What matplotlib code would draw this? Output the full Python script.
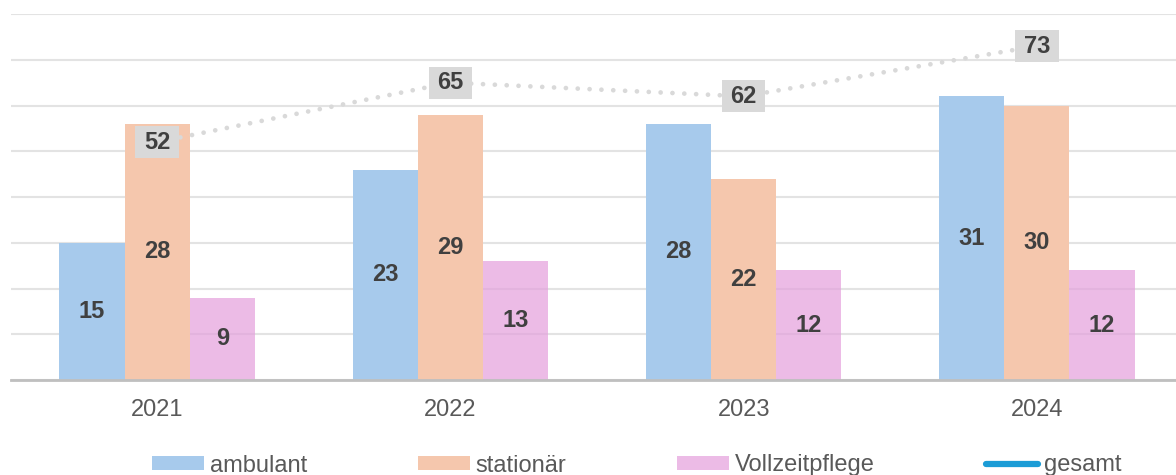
import numpy as np
import matplotlib
matplotlib.use('Agg')
import matplotlib.pyplot as plt
from matplotlib.path import Path
from matplotlib.lines import Line2D
from matplotlib.patches import Patch

years = ['2021', '2022', '2023', '2024']
ambulant = [15, 23, 28, 31]
stationaer = [28, 29, 22, 30]
vollzeitpflege = [9, 13, 12, 12]
gesamt = [52, 65, 62, 73]

plt.rcParams['font.family'] = ['Liberation Sans', 'DejaVu Sans']

fig = plt.figure(figsize=(11.76, 4.75), dpi=100)
ax = fig.add_axes([10.5 / 1176, 95 / 475, 1173 / 1176, 366 / 475])

x = np.arange(len(years))
w = 0.222
series = [
    (ambulant, '#A7CAEC', 1.0, 'ambulant'),
    (stationaer, '#F5C7AD', 1.0, 'stationär'),
    (vollzeitpflege, '#E49FDC', 0.7, 'Vollzeitpflege'),
]
for i, (vals, col, a, name) in enumerate(series):
    pos = x + (i - 1) * w
    ax.bar(pos, vals, width=w, color=col, alpha=a, zorder=2 if a == 1.0 else 3)
    for p, v in zip(pos, vals):
        ax.text(p, v / 2, str(v), ha='center', va='center', fontsize=17,
                fontweight='bold', color='#404040', zorder=5)

ax.set_xlim(-0.5, 3.5)
ax.set_ylim(0, 40)
ax.set_yticks(np.arange(0, 41, 5))
ax.yaxis.grid(True, color='#e3e3e3', linewidth=1.5, zorder=0)
ax.set_axisbelow(True)
ax.set_xticks(x)
ax.set_xticklabels(years)
for s in ['top', 'right', 'left']:
    ax.spines[s].set_visible(False)
ax.spines['bottom'].set_color('#bfbfbf')
ax.spines['bottom'].set_linewidth(2)
ax.spines['bottom'].set_zorder(6)

# secondary axis for the total line
ax2 = ax.twinx()
ax2.set_ylim(0, 80)
ax2.axis('off')
ax2.plot(x, gesamt, color='#d9d9d9', linewidth=3.4, linestyle=(0, (0.01, 2.5)),
         dash_capstyle='round', zorder=4)

# twinx turns the left ticks back on
ax.tick_params(axis='y', left=False, right=False, labelleft=False)
ax.tick_params(axis='x', length=0, pad=14, labelsize=17, labelcolor='#595959')


def label_box(x0, y0, width, height, mutation_size):
    px, py = 8.5, 4.5
    verts = [(x0 - px, y0 - py), (x0 + width + px, y0 - py),
             (x0 + width + px, y0 + height + py), (x0 - px, y0 + height + py),
             (x0 - px, y0 - py)]
    return Path(verts, closed=True)


for xi, v in zip(x, gesamt):
    ax2.text(xi, v, str(v), ha='center', va='center', fontsize=17,
             fontweight='bold', color='#404040', zorder=6,
             bbox=dict(boxstyle=label_box, facecolor='#d9d9d9', edgecolor='none'))

handles = [Patch(facecolor=s[1], alpha=s[2]) for s in series]
handles.append(Line2D([0], [0], color='#1C9CD6', linewidth=4.5, solid_capstyle='round'))
labels = [s[3] for s in series] + ['gesamt']
fig.legend(handles, labels, loc='center', bbox_to_anchor=(636.5 / 1176, 9.5 / 475),
           ncol=4, frameon=False, fontsize=17, labelcolor='#595959',
           handlelength=2.2, handleheight=0.5, handletextpad=0.25,
           columnspacing=4.7, borderpad=0, borderaxespad=0)

fig.savefig('out.png', dpi=100)
